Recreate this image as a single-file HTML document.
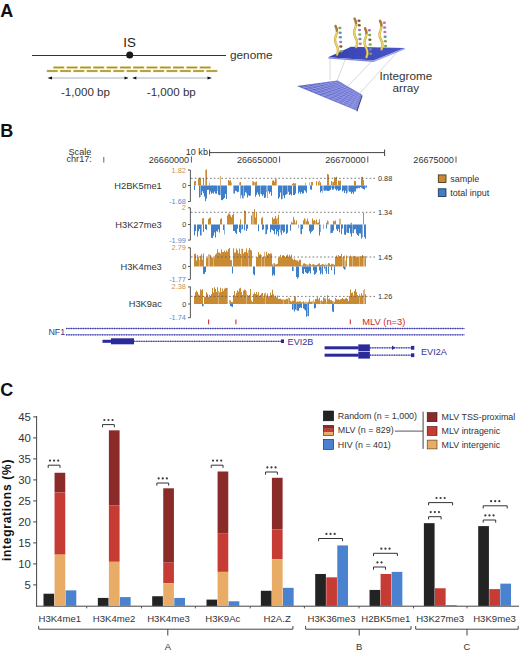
<!DOCTYPE html>
<html><head><meta charset="utf-8"><style>
html,body{margin:0;padding:0;background:#fff;}
body{width:520px;height:654px;overflow:hidden;}
svg{display:block;}
svg text{font-family:"Liberation Sans",sans-serif;}
</style></head><body>
<svg width="520" height="654" viewBox="0 0 520 654">
<text x="0.3" y="16.8" font-size="18" fill="#111" text-anchor="start" font-weight="bold" >A</text>
<line x1="32" y1="55.5" x2="226" y2="55.5" stroke="#333" stroke-width="1" />
<circle cx="129.7" cy="55" r="3.5" fill="#1a1a1a"/>
<text x="129.6" y="47.2" font-size="13.3" fill="#222" text-anchor="middle" font-weight="normal" >IS</text>
<text x="230" y="58.6" font-size="11.8" fill="#333" text-anchor="start" font-weight="normal" >genome</text>
<rect x="53.30" y="66.40" width="11.10" height="2.20" fill="#c8b652" />
<rect x="53.80" y="67.10" width="10.10" height="0.80" fill="#9a8a38" />
<rect x="66.60" y="66.40" width="11.10" height="2.20" fill="#c8b652" />
<rect x="67.10" y="67.10" width="10.10" height="0.80" fill="#9a8a38" />
<rect x="79.90" y="66.40" width="11.10" height="2.20" fill="#c8b652" />
<rect x="80.40" y="67.10" width="10.10" height="0.80" fill="#9a8a38" />
<rect x="93.20" y="66.40" width="11.10" height="2.20" fill="#c8b652" />
<rect x="93.70" y="67.10" width="10.10" height="0.80" fill="#9a8a38" />
<rect x="106.50" y="66.40" width="11.10" height="2.20" fill="#c8b652" />
<rect x="107.00" y="67.10" width="10.10" height="0.80" fill="#9a8a38" />
<rect x="119.80" y="66.40" width="11.10" height="2.20" fill="#c8b652" />
<rect x="120.30" y="67.10" width="10.10" height="0.80" fill="#9a8a38" />
<rect x="133.10" y="66.40" width="11.10" height="2.20" fill="#c8b652" />
<rect x="133.60" y="67.10" width="10.10" height="0.80" fill="#9a8a38" />
<rect x="146.40" y="66.40" width="11.10" height="2.20" fill="#c8b652" />
<rect x="146.90" y="67.10" width="10.10" height="0.80" fill="#9a8a38" />
<rect x="159.70" y="66.40" width="11.10" height="2.20" fill="#c8b652" />
<rect x="160.20" y="67.10" width="10.10" height="0.80" fill="#9a8a38" />
<rect x="173.00" y="66.40" width="11.10" height="2.20" fill="#c8b652" />
<rect x="173.50" y="67.10" width="10.10" height="0.80" fill="#9a8a38" />
<rect x="186.30" y="66.40" width="11.10" height="2.20" fill="#c8b652" />
<rect x="186.80" y="67.10" width="10.10" height="0.80" fill="#9a8a38" />
<rect x="199.60" y="66.40" width="11.10" height="2.20" fill="#c8b652" />
<rect x="200.10" y="67.10" width="10.10" height="0.80" fill="#9a8a38" />
<rect x="46.70" y="69.90" width="11.10" height="2.20" fill="#c8b652" />
<rect x="47.20" y="70.60" width="10.10" height="0.80" fill="#9a8a38" />
<rect x="60.00" y="69.90" width="11.10" height="2.20" fill="#c8b652" />
<rect x="60.50" y="70.60" width="10.10" height="0.80" fill="#9a8a38" />
<rect x="73.30" y="69.90" width="11.10" height="2.20" fill="#c8b652" />
<rect x="73.80" y="70.60" width="10.10" height="0.80" fill="#9a8a38" />
<rect x="86.60" y="69.90" width="11.10" height="2.20" fill="#c8b652" />
<rect x="87.10" y="70.60" width="10.10" height="0.80" fill="#9a8a38" />
<rect x="99.90" y="69.90" width="11.10" height="2.20" fill="#c8b652" />
<rect x="100.40" y="70.60" width="10.10" height="0.80" fill="#9a8a38" />
<rect x="113.20" y="69.90" width="11.10" height="2.20" fill="#c8b652" />
<rect x="113.70" y="70.60" width="10.10" height="0.80" fill="#9a8a38" />
<rect x="126.50" y="69.90" width="11.10" height="2.20" fill="#c8b652" />
<rect x="127.00" y="70.60" width="10.10" height="0.80" fill="#9a8a38" />
<rect x="139.80" y="69.90" width="11.10" height="2.20" fill="#c8b652" />
<rect x="140.30" y="70.60" width="10.10" height="0.80" fill="#9a8a38" />
<rect x="153.10" y="69.90" width="11.10" height="2.20" fill="#c8b652" />
<rect x="153.60" y="70.60" width="10.10" height="0.80" fill="#9a8a38" />
<rect x="166.40" y="69.90" width="11.10" height="2.20" fill="#c8b652" />
<rect x="166.90" y="70.60" width="10.10" height="0.80" fill="#9a8a38" />
<rect x="179.70" y="69.90" width="11.10" height="2.20" fill="#c8b652" />
<rect x="180.20" y="70.60" width="10.10" height="0.80" fill="#9a8a38" />
<rect x="193.00" y="69.90" width="11.10" height="2.20" fill="#c8b652" />
<rect x="193.50" y="70.60" width="10.10" height="0.80" fill="#9a8a38" />
<rect x="206.30" y="69.90" width="11.10" height="2.20" fill="#c8b652" />
<rect x="206.80" y="70.60" width="10.10" height="0.80" fill="#9a8a38" />
<line x1="49" y1="78" x2="128" y2="78" stroke="#a9b0b8" stroke-width="1" />
<line x1="133" y1="78" x2="210" y2="78" stroke="#a9b0b8" stroke-width="1" />
<path d="M47.5,78 L52,76.5 L52,79.5 Z" fill="#111"/>
<path d="M128.5,78 L124.5,76.5 L124.5,79.5 Z" fill="#111"/>
<path d="M132.3,78 L136.3,76.5 L136.3,79.5 Z" fill="#111"/>
<path d="M212,78 L207.5,76.5 L207.5,79.5 Z" fill="#111"/>
<text x="61" y="96.2" font-size="11.6" fill="#333" text-anchor="start" font-weight="normal" >-1,000 bp</text>
<text x="146.8" y="96.2" font-size="11.6" fill="#333" text-anchor="start" font-weight="normal" >-1,000 bp</text>
<line x1="330" y1="59" x2="330" y2="80" stroke="#c8c8cc" stroke-width="0.7" />
<line x1="345" y1="60" x2="337" y2="81" stroke="#c8c8cc" stroke-width="0.7" />
<line x1="372" y1="61" x2="348" y2="86" stroke="#c8c8cc" stroke-width="0.7" />
<line x1="400" y1="49" x2="360" y2="93" stroke="#c8c8cc" stroke-width="0.7" />
<defs><linearGradient id="gb" x1="0" y1="0" x2="1" y2="1"><stop offset="0" stop-color="#5a62c4"/><stop offset="1" stop-color="#7a82d8"/></linearGradient><linearGradient id="tp" x1="0" y1="0" x2="1" y2="0"><stop offset="0" stop-color="#3540b0"/><stop offset="1" stop-color="#4a56c8"/></linearGradient></defs>
<path d="M296.9,86 L337.6,80.4 L361.8,94.6 L356.3,110.6 Z" fill="url(#gb)"/>
<line x1="301.42" y1="85.38" x2="356.91" y2="108.82" stroke="#aab0ee" stroke-width="0.5" />
<line x1="305.94" y1="84.76" x2="357.52" y2="107.04" stroke="#aab0ee" stroke-width="0.5" />
<line x1="310.47" y1="84.13" x2="358.13" y2="105.27" stroke="#aab0ee" stroke-width="0.5" />
<line x1="314.99" y1="83.51" x2="358.74" y2="103.49" stroke="#aab0ee" stroke-width="0.5" />
<line x1="319.51" y1="82.89" x2="359.36" y2="101.71" stroke="#aab0ee" stroke-width="0.5" />
<line x1="324.03" y1="82.27" x2="359.97" y2="99.93" stroke="#aab0ee" stroke-width="0.5" />
<line x1="328.56" y1="81.64" x2="360.58" y2="98.16" stroke="#aab0ee" stroke-width="0.5" />
<line x1="333.08" y1="81.02" x2="361.19" y2="96.38" stroke="#aab0ee" stroke-width="0.5" />
<line x1="301.85" y1="88.05" x2="339.62" y2="81.58" stroke="#aab0ee" stroke-width="0.5" />
<line x1="306.8" y1="90.1" x2="341.63" y2="82.77" stroke="#aab0ee" stroke-width="0.5" />
<line x1="311.75" y1="92.15" x2="343.65" y2="83.95" stroke="#aab0ee" stroke-width="0.5" />
<line x1="316.7" y1="94.2" x2="345.67" y2="85.13" stroke="#aab0ee" stroke-width="0.5" />
<line x1="321.65" y1="96.25" x2="347.68" y2="86.32" stroke="#aab0ee" stroke-width="0.5" />
<line x1="326.6" y1="98.3" x2="349.7" y2="87.5" stroke="#aab0ee" stroke-width="0.5" />
<line x1="331.55" y1="100.35" x2="351.72" y2="88.68" stroke="#aab0ee" stroke-width="0.5" />
<line x1="336.5" y1="102.4" x2="353.73" y2="89.87" stroke="#aab0ee" stroke-width="0.5" />
<line x1="341.45" y1="104.45" x2="355.75" y2="91.05" stroke="#aab0ee" stroke-width="0.5" />
<line x1="346.4" y1="106.5" x2="357.77" y2="92.23" stroke="#aab0ee" stroke-width="0.5" />
<line x1="351.35" y1="108.55" x2="359.78" y2="93.42" stroke="#aab0ee" stroke-width="0.5" />
<path d="M356.3,110.6 L361.8,94.6 L362.5,96 L357.3,111.8 Z" fill="#3a3f90"/>
<path d="M328.2,57.2 L351,46.8 L404.7,48 L373.5,60.6 Z" fill="url(#tp)"/>
<path d="M328.2,57.2 L373.5,60.6 L373.8,61.9 L328.4,58.4 Z" fill="#7a84d8"/>
<path d="M373.5,60.6 L404.7,48 L404.9,49.2 L373.8,61.9 Z" fill="#9aa2e4"/>
<polyline points="335.50,26.00 335.92,26.95 336.31,27.90 336.62,28.85 336.84,29.80 336.95,30.75 336.94,31.70 336.82,32.65 336.61,33.60 336.32,34.55 336.00,35.50 335.68,36.45 335.39,37.40 335.18,38.35 335.06,39.30 335.05,40.25 335.16,41.20 335.38,42.15 335.69,43.10 336.08,44.05 336.50,45.00 336.92,45.95 337.31,46.90 337.62,47.85 337.84,48.80 337.95,49.75 337.94,50.70 337.82,51.65 337.61,52.60 337.32,53.55 337.00,54.50" fill="none" stroke="#d2a848" stroke-width="2.4" stroke-linecap="round"/>
<polyline points="335.50,26.00 335.92,26.95 336.31,27.90 336.62,28.85 336.84,29.80 336.95,30.75 336.94,31.70 336.82,32.65 336.61,33.60 336.32,34.55 336.00,35.50 335.68,36.45 335.39,37.40 335.18,38.35 335.06,39.30 335.05,40.25 335.16,41.20 335.38,42.15 335.69,43.10 336.08,44.05 336.50,45.00 336.92,45.95 337.31,46.90 337.62,47.85 337.84,48.80 337.95,49.75 337.94,50.70 337.82,51.65 337.61,52.60 337.32,53.55 337.00,54.50" fill="none" stroke="#ecdc6a" stroke-width="1.1" stroke-linecap="round"/>
<polyline points="335.50,26.00 335.92,26.95 336.31,27.90 336.62,28.85 336.84,29.80 336.95,30.75" fill="none" stroke="#a87a40" stroke-width="2.2" stroke-linecap="round"/>
<ellipse cx="339.91" cy="28.00" rx="1.6" ry="1.25" fill="#78a848"/>
<ellipse cx="340.15" cy="32.64" rx="1.6" ry="1.25" fill="#6a88b0"/>
<ellipse cx="340.39" cy="37.27" rx="1.6" ry="1.25" fill="#6a88b0"/>
<ellipse cx="340.64" cy="41.91" rx="1.6" ry="1.25" fill="#a478b8"/>
<ellipse cx="340.88" cy="46.55" rx="1.6" ry="1.25" fill="#7a5a38"/>
<ellipse cx="341.13" cy="51.18" rx="1.6" ry="1.25" fill="#78a848"/>
<polyline points="354.60,18.70 355.02,19.64 355.41,20.59 355.72,21.53 355.94,22.47 356.05,23.42 356.04,24.36 355.92,25.30 355.71,26.25 355.42,27.19 355.10,28.13 354.78,29.08 354.49,30.02 354.28,30.96 354.16,31.91 354.15,32.85 354.26,33.79 354.48,34.74 354.79,35.68 355.18,36.62 355.60,37.57 356.02,38.51 356.41,39.45 356.72,40.40 356.94,41.34 357.05,42.28 357.04,43.23 356.92,44.17 356.71,45.11 356.42,46.06 356.10,47.00" fill="none" stroke="#d2a848" stroke-width="2.4" stroke-linecap="round"/>
<polyline points="354.60,18.70 355.02,19.64 355.41,20.59 355.72,21.53 355.94,22.47 356.05,23.42 356.04,24.36 355.92,25.30 355.71,26.25 355.42,27.19 355.10,28.13 354.78,29.08 354.49,30.02 354.28,30.96 354.16,31.91 354.15,32.85 354.26,33.79 354.48,34.74 354.79,35.68 355.18,36.62 355.60,37.57 356.02,38.51 356.41,39.45 356.72,40.40 356.94,41.34 357.05,42.28 357.04,43.23 356.92,44.17 356.71,45.11 356.42,46.06 356.10,47.00" fill="none" stroke="#ecdc6a" stroke-width="1.1" stroke-linecap="round"/>
<polyline points="354.60,18.70 355.02,19.64 355.41,20.59 355.72,21.53 355.94,22.47 356.05,23.42" fill="none" stroke="#a87a40" stroke-width="2.2" stroke-linecap="round"/>
<ellipse cx="359.01" cy="20.70" rx="1.6" ry="1.25" fill="#7a5a38"/>
<ellipse cx="359.25" cy="25.30" rx="1.6" ry="1.25" fill="#7a5a38"/>
<ellipse cx="359.49" cy="29.90" rx="1.6" ry="1.25" fill="#a478b8"/>
<ellipse cx="359.74" cy="34.50" rx="1.6" ry="1.25" fill="#78a848"/>
<ellipse cx="359.98" cy="39.10" rx="1.6" ry="1.25" fill="#6a88b0"/>
<ellipse cx="360.23" cy="43.70" rx="1.6" ry="1.25" fill="#c07890"/>
<polyline points="380.00,20.80 380.42,21.75 380.81,22.70 381.12,23.65 381.34,24.60 381.45,25.55 381.44,26.50 381.32,27.45 381.11,28.40 380.82,29.35 380.50,30.30 380.18,31.25 379.89,32.20 379.68,33.15 379.56,34.10 379.55,35.05 379.66,36.00 379.88,36.95 380.19,37.90 380.58,38.85 381.00,39.80 381.42,40.75 381.81,41.70 382.12,42.65 382.34,43.60 382.45,44.55 382.44,45.50 382.32,46.45 382.11,47.40 381.82,48.35 381.50,49.30" fill="none" stroke="#d2a848" stroke-width="2.4" stroke-linecap="round"/>
<polyline points="380.00,20.80 380.42,21.75 380.81,22.70 381.12,23.65 381.34,24.60 381.45,25.55 381.44,26.50 381.32,27.45 381.11,28.40 380.82,29.35 380.50,30.30 380.18,31.25 379.89,32.20 379.68,33.15 379.56,34.10 379.55,35.05 379.66,36.00 379.88,36.95 380.19,37.90 380.58,38.85 381.00,39.80 381.42,40.75 381.81,41.70 382.12,42.65 382.34,43.60 382.45,44.55 382.44,45.50 382.32,46.45 382.11,47.40 381.82,48.35 381.50,49.30" fill="none" stroke="#ecdc6a" stroke-width="1.1" stroke-linecap="round"/>
<polyline points="380.00,20.80 380.42,21.75 380.81,22.70 381.12,23.65 381.34,24.60 381.45,25.55" fill="none" stroke="#a87a40" stroke-width="2.2" stroke-linecap="round"/>
<ellipse cx="384.41" cy="22.80" rx="1.6" ry="1.25" fill="#c07890"/>
<ellipse cx="384.65" cy="27.44" rx="1.6" ry="1.25" fill="#a478b8"/>
<ellipse cx="384.89" cy="32.07" rx="1.6" ry="1.25" fill="#c07890"/>
<ellipse cx="385.14" cy="36.71" rx="1.6" ry="1.25" fill="#6a88b0"/>
<ellipse cx="385.38" cy="41.35" rx="1.6" ry="1.25" fill="#78a848"/>
<ellipse cx="385.63" cy="45.98" rx="1.6" ry="1.25" fill="#78a848"/>
<polyline points="365.00,28.30 365.42,29.26 365.81,30.23 366.12,31.19 366.34,32.15 366.45,33.12 366.44,34.08 366.32,35.04 366.11,36.01 365.82,36.97 365.50,37.93 365.18,38.90 364.89,39.86 364.68,40.82 364.56,41.79 364.55,42.75 364.66,43.71 364.88,44.68 365.19,45.64 365.58,46.60 366.00,47.57 366.42,48.53 366.81,49.49 367.12,50.46 367.34,51.42 367.45,52.38 367.44,53.35 367.32,54.31 367.11,55.27 366.82,56.24 366.50,57.20" fill="none" stroke="#d2a848" stroke-width="2.4" stroke-linecap="round"/>
<polyline points="365.00,28.30 365.42,29.26 365.81,30.23 366.12,31.19 366.34,32.15 366.45,33.12 366.44,34.08 366.32,35.04 366.11,36.01 365.82,36.97 365.50,37.93 365.18,38.90 364.89,39.86 364.68,40.82 364.56,41.79 364.55,42.75 364.66,43.71 364.88,44.68 365.19,45.64 365.58,46.60 366.00,47.57 366.42,48.53 366.81,49.49 367.12,50.46 367.34,51.42 367.45,52.38 367.44,53.35 367.32,54.31 367.11,55.27 366.82,56.24 366.50,57.20" fill="none" stroke="#ecdc6a" stroke-width="1.1" stroke-linecap="round"/>
<polyline points="365.00,28.30 365.42,29.26 365.81,30.23 366.12,31.19 366.34,32.15 366.45,33.12" fill="none" stroke="#a87a40" stroke-width="2.2" stroke-linecap="round"/>
<ellipse cx="369.40" cy="30.30" rx="1.6" ry="1.25" fill="#a478b8"/>
<ellipse cx="369.65" cy="35.01" rx="1.6" ry="1.25" fill="#78a848"/>
<ellipse cx="369.89" cy="39.72" rx="1.6" ry="1.25" fill="#7a5a38"/>
<ellipse cx="370.14" cy="44.43" rx="1.6" ry="1.25" fill="#78a848"/>
<ellipse cx="370.38" cy="49.14" rx="1.6" ry="1.25" fill="#6a88b0"/>
<ellipse cx="370.63" cy="53.85" rx="1.6" ry="1.25" fill="#78a848"/>
<text x="379.6" y="79.8" font-size="11.7" fill="#333" text-anchor="start" font-weight="normal" >Integrome</text>
<text x="405.9" y="91.5" font-size="11.7" fill="#333" text-anchor="middle" font-weight="normal" >array</text>
<text x="0.3" y="136.6" font-size="18" fill="#111" text-anchor="start" font-weight="bold" >B</text>
<text x="91.3" y="154.6" font-size="9.1" fill="#333" text-anchor="end" font-weight="normal" >Scale</text>
<text x="91.8" y="162.4" font-size="9.1" fill="#333" text-anchor="end" font-weight="normal" >chr17:</text>
<line x1="103.8" y1="157" x2="103.8" y2="162.6" stroke="#555" stroke-width="0.9" />
<text x="185.7" y="154.8" font-size="9.1" fill="#333" text-anchor="start" font-weight="normal" >10 kb</text>
<line x1="209.6" y1="152.6" x2="384.6" y2="152.6" stroke="#444" stroke-width="1" />
<line x1="209.6" y1="149.5" x2="209.6" y2="156" stroke="#444" stroke-width="1" />
<line x1="384.6" y1="149.5" x2="384.6" y2="156" stroke="#444" stroke-width="1" />
<text x="189.20000000000002" y="162.6" font-size="9.1" fill="#333" text-anchor="end" font-weight="normal" >26660000</text>
<line x1="191.4" y1="156.4" x2="191.4" y2="162.6" stroke="#444" stroke-width="0.9" />
<text x="277.40000000000003" y="162.6" font-size="9.1" fill="#333" text-anchor="end" font-weight="normal" >26665000</text>
<line x1="279.6" y1="156.4" x2="279.6" y2="162.6" stroke="#444" stroke-width="0.9" />
<text x="365.6" y="162.6" font-size="9.1" fill="#333" text-anchor="end" font-weight="normal" >26670000</text>
<line x1="367.8" y1="156.4" x2="367.8" y2="162.6" stroke="#444" stroke-width="0.9" />
<text x="453.8" y="162.6" font-size="9.1" fill="#333" text-anchor="end" font-weight="normal" >26675000</text>
<line x1="456" y1="156.4" x2="456" y2="162.6" stroke="#444" stroke-width="0.9" />
<path d="M194,185.5V181.3h1V185.5ZM195,185.5V181.1h1V185.5ZM198,185.5V178.4h1V185.5ZM199,185.5V177.7h1V185.5ZM200,185.5V177.7h1V185.5ZM203,185.5V178.1h1V185.5ZM206,185.5V169.5h1V185.5ZM228,185.5V180.1h1V185.5ZM229,185.5V180.8h1V185.5ZM230,185.5V180.3h1V185.5ZM240,185.5V182.1h1V185.5ZM253,185.5V181.4h1V185.5ZM255,185.5V182.2h1V185.5ZM256,185.5V181.6h1V185.5ZM272,185.5V180.8h1V185.5ZM273,185.5V180.3h1V185.5ZM274,185.5V181.5h1V185.5ZM275,185.5V179.2h1V185.5ZM292,185.5V183.8h1V185.5ZM293,185.5V183.1h1V185.5ZM294,185.5V183.6h1V185.5ZM295,185.5V183.3h1V185.5ZM311,185.5V182.0h1V185.5ZM312,185.5V182.1h1V185.5ZM316,185.5V181.2h1V185.5ZM318,185.5V181.4h1V185.5ZM320,185.5V182.3h1V185.5ZM327,185.5V174.0h1V185.5ZM328,185.5V174.4h1V185.5ZM331,185.5V180.9h1V185.5ZM333,185.5V181.7h1V185.5ZM334,185.5V177.1h1V185.5ZM335,185.5V177.8h1V185.5ZM336,185.5V176.7h1V185.5ZM338,185.5V180.5h1V185.5ZM339,185.5V181.0h1V185.5ZM340,185.5V180.5h1V185.5ZM354,185.5V180.8h1V185.5ZM355,185.5V181.1h1V185.5ZM361,185.5V177.0h1V185.5ZM362,185.5V176.7h1V185.5ZM363,185.5V180.1h1V185.5Z" fill="#c98a34"/>
<path d="M205,185.5V169.9h1V185.5ZM209,185.5V182.4h1V185.5ZM220,185.5V176.0h1V185.5ZM231,185.5V182.2h1V185.5ZM239,185.5V182.2h1V185.5ZM252,185.5V181.1h1V185.5ZM254,185.5V181.9h1V185.5ZM276,185.5V178.5h1V185.5ZM305,185.5V182.5h1V185.5ZM309,185.5V182.5h1V185.5ZM319,185.5V180.4h1V185.5ZM332,185.5V181.8h1V185.5Z" fill="#dcb47a"/>
<path d="M194,185.5V190.0h1V185.5ZM199,185.5V197.4h1V185.5ZM201,185.5V195.1h1V185.5ZM202,185.5V191.2h1V185.5ZM203,185.5V193.2h1V185.5ZM204,185.5V196.5h1V185.5ZM205,185.5V201.3h1V185.5ZM206,185.5V198.5h1V185.5ZM207,185.5V190.0h1V185.5ZM208,185.5V189.8h1V185.5ZM209,185.5V194.4h1V185.5ZM210,185.5V191.6h1V185.5ZM211,185.5V193.7h1V185.5ZM212,185.5V192.8h1V185.5ZM213,185.5V193.6h1V185.5ZM214,185.5V191.6h1V185.5ZM215,185.5V193.6h1V185.5ZM216,185.5V193.7h1V185.5ZM218,185.5V194.7h1V185.5ZM219,185.5V195.3h1V185.5ZM221,185.5V200.0h1V185.5ZM222,185.5V200.2h1V185.5ZM223,185.5V198.9h1V185.5ZM224,185.5V198.1h1V185.5ZM225,185.5V194.1h1V185.5ZM226,185.5V198.9h1V185.5ZM234,185.5V193.5h1V185.5ZM235,185.5V190.8h1V185.5ZM236,185.5V191.2h1V185.5ZM237,185.5V192.3h1V185.5ZM238,185.5V191.7h1V185.5ZM241,185.5V195.2h1V185.5ZM242,185.5V198.3h1V185.5ZM244,185.5V195.7h1V185.5ZM245,185.5V192.1h1V185.5ZM246,185.5V193.3h1V185.5ZM247,185.5V197.6h1V185.5ZM248,185.5V195.3h1V185.5ZM249,185.5V195.9h1V185.5ZM250,185.5V195.6h1V185.5ZM255,185.5V196.7h1V185.5ZM256,185.5V194.8h1V185.5ZM257,185.5V192.4h1V185.5ZM258,185.5V194.4h1V185.5ZM259,185.5V196.5h1V185.5ZM261,185.5V194.3h1V185.5ZM262,185.5V196.0h1V185.5ZM263,185.5V194.6h1V185.5ZM264,185.5V198.1h1V185.5ZM265,185.5V197.5h1V185.5ZM268,185.5V191.2h1V185.5ZM269,185.5V193.8h1V185.5ZM270,185.5V192.1h1V185.5ZM271,185.5V195.8h1V185.5ZM278,185.5V198.7h1V185.5ZM279,185.5V197.2h1V185.5ZM280,185.5V192.6h1V185.5ZM281,185.5V199.2h1V185.5ZM283,185.5V195.4h1V185.5ZM284,185.5V198.2h1V185.5ZM285,185.5V195.0h1V185.5ZM286,185.5V194.2h1V185.5ZM288,185.5V191.7h1V185.5ZM289,185.5V195.0h1V185.5ZM290,185.5V194.2h1V185.5ZM291,185.5V195.6h1V185.5ZM293,185.5V195.0h1V185.5ZM294,185.5V194.9h1V185.5ZM295,185.5V193.5h1V185.5ZM298,185.5V193.4h1V185.5ZM299,185.5V191.8h1V185.5ZM300,185.5V193.8h1V185.5ZM301,185.5V192.1h1V185.5ZM302,185.5V193.8h1V185.5ZM303,185.5V193.3h1V185.5ZM304,185.5V190.2h1V185.5ZM305,185.5V191.3h1V185.5ZM306,185.5V192.8h1V185.5ZM310,185.5V189.6h1V185.5ZM311,185.5V189.7h1V185.5ZM320,185.5V192.6h1V185.5ZM321,185.5V191.0h1V185.5ZM324,185.5V190.7h1V185.5ZM325,185.5V190.5h1V185.5ZM326,185.5V190.6h1V185.5ZM327,185.5V190.9h1V185.5ZM328,185.5V190.9h1V185.5ZM329,185.5V190.5h1V185.5ZM330,185.5V190.1h1V185.5ZM332,185.5V189.7h1V185.5ZM333,185.5V189.4h1V185.5ZM335,185.5V189.3h1V185.5ZM336,185.5V190.5h1V185.5ZM337,185.5V189.5h1V185.5ZM338,185.5V190.9h1V185.5ZM339,185.5V190.5h1V185.5ZM340,185.5V189.9h1V185.5ZM342,185.5V191.4h1V185.5ZM343,185.5V190.5h1V185.5ZM344,185.5V193.0h1V185.5ZM345,185.5V190.7h1V185.5ZM346,185.5V193.4h1V185.5ZM349,185.5V191.8h1V185.5ZM350,185.5V191.8h1V185.5ZM351,185.5V193.8h1V185.5ZM352,185.5V192.2h1V185.5ZM353,185.5V193.9h1V185.5ZM354,185.5V191.4h1V185.5ZM355,185.5V191.5h1V185.5ZM356,185.5V188.5h1V185.5ZM357,185.5V188.5h1V185.5ZM358,185.5V187.8h1V185.5ZM359,185.5V188.2h1V185.5ZM360,185.5V187.1h1V185.5ZM361,185.5V187.7h1V185.5ZM362,185.5V188.6h1V185.5ZM363,185.5V189.0h1V185.5ZM364,185.5V189.6h1V185.5ZM366,185.5V187.4h1V185.5Z" fill="#3f7fca"/>
<path d="M200,185.5V196.9h1V185.5ZM217,185.5V191.1h1V185.5ZM220,185.5V195.1h1V185.5ZM233,185.5V193.7h1V185.5ZM240,185.5V198.4h1V185.5ZM243,185.5V198.4h1V185.5ZM260,185.5V193.8h1V185.5ZM266,185.5V192.2h1V185.5ZM267,185.5V198.1h1V185.5ZM282,185.5V199.1h1V185.5ZM287,185.5V194.0h1V185.5ZM322,185.5V192.8h1V185.5ZM323,185.5V190.4h1V185.5ZM331,185.5V188.0h1V185.5ZM334,185.5V188.3h1V185.5ZM347,185.5V192.7h1V185.5ZM348,185.5V191.0h1V185.5ZM365,185.5V188.0h1V185.5Z" fill="#8db2e0"/>
<path d="M188,170H190.4V201.5H188M188,185.5H190.4" fill="none" stroke="#444" stroke-width="0.9"/>
<text x="185.8" y="172.5" font-size="7.3" fill="#c9924a" text-anchor="end" font-weight="normal" >1.82</text>
<text x="186.2" y="188.0" font-size="7.3" fill="#333" text-anchor="end" font-weight="normal" >0</text>
<text x="185.8" y="204.0" font-size="7.3" fill="#5a8ccc" text-anchor="end" font-weight="normal" >-1.68</text>
<line x1="191" y1="178.3" x2="375" y2="178.3" stroke="#555" stroke-width="0.8" stroke-dasharray="1.6,2.2"/>
<text x="378" y="180.9" font-size="7.3" fill="#333" text-anchor="start" font-weight="normal" >0.88</text>
<text x="161.8" y="188.8" font-size="9.3" fill="#333" text-anchor="end" font-weight="normal" >H2BK5me1</text>
<path d="M202,224.5V218.6h1V224.5ZM203,224.5V217.9h1V224.5ZM208,224.5V218.9h1V224.5ZM209,224.5V217.9h1V224.5ZM210,224.5V217.6h1V224.5ZM220,224.5V219.0h1V224.5ZM221,224.5V218.3h1V224.5ZM227,224.5V215.5h1V224.5ZM228,224.5V213.5h1V224.5ZM229,224.5V213.7h1V224.5ZM230,224.5V215.2h1V224.5ZM231,224.5V217.3h1V224.5ZM232,224.5V214.9h1V224.5ZM233,224.5V213.6h1V224.5ZM240,224.5V219.3h1V224.5ZM244,224.5V210.5h1V224.5ZM245,224.5V211.1h1V224.5ZM251,224.5V215.4h1V224.5ZM254,224.5V208.9h1V224.5ZM255,224.5V217.5h1V224.5ZM256,224.5V213.1h1V224.5ZM261,224.5V218.2h1V224.5ZM262,224.5V217.0h1V224.5ZM272,224.5V217.2h1V224.5ZM273,224.5V218.9h1V224.5ZM274,224.5V218.6h1V224.5ZM275,224.5V216.1h1V224.5ZM276,224.5V218.7h1V224.5ZM278,224.5V214.8h1V224.5ZM291,224.5V221.8h1V224.5ZM292,224.5V222.8h1V224.5ZM293,224.5V216.8h1V224.5ZM294,224.5V219.7h1V224.5ZM296,224.5V220.5h1V224.5ZM303,224.5V220.3h1V224.5ZM304,224.5V218.2h1V224.5ZM306,224.5V221.2h1V224.5ZM307,224.5V218.6h1V224.5ZM308,224.5V221.2h1V224.5ZM312,224.5V218.6h1V224.5ZM313,224.5V220.6h1V224.5ZM314,224.5V219.9h1V224.5ZM316,224.5V219.5h1V224.5ZM317,224.5V222.8h1V224.5ZM318,224.5V222.4h1V224.5ZM319,224.5V219.2h1V224.5ZM326,224.5V222.9h1V224.5ZM327,224.5V220.6h1V224.5ZM333,224.5V220.8h1V224.5ZM334,224.5V221.3h1V224.5ZM335,224.5V220.5h1V224.5ZM351,224.5V222.8h1V224.5ZM363,224.5V213.0h1V224.5Z" fill="#c98a34"/>
<path d="M252,224.5V212.2h1V224.5ZM253,224.5V211.9h1V224.5ZM277,224.5V217.8h1V224.5ZM295,224.5V222.6h1V224.5ZM305,224.5V219.2h1V224.5ZM315,224.5V221.0h1V224.5ZM328,224.5V221.2h1V224.5ZM339,224.5V218.5h1V224.5ZM340,224.5V219.0h1V224.5ZM350,224.5V223.2h1V224.5Z" fill="#dcb47a"/>
<path d="M194,224.5V235.3h1V224.5ZM195,224.5V230.9h1V224.5ZM197,224.5V236.5h1V224.5ZM198,224.5V231.2h1V224.5ZM199,224.5V229.0h1V224.5ZM200,224.5V235.4h1V224.5ZM203,224.5V231.8h1V224.5ZM205,224.5V229.0h1V224.5ZM206,224.5V230.0h1V224.5ZM211,224.5V237.8h1V224.5ZM212,224.5V238.1h1V224.5ZM213,224.5V235.7h1V224.5ZM214,224.5V232.5h1V224.5ZM215,224.5V237.6h1V224.5ZM216,224.5V231.2h1V224.5ZM217,224.5V231.7h1V224.5ZM218,224.5V229.4h1V224.5ZM219,224.5V232.6h1V224.5ZM223,224.5V229.9h1V224.5ZM233,224.5V231.1h1V224.5ZM234,224.5V230.9h1V224.5ZM235,224.5V232.7h1V224.5ZM236,224.5V233.9h1V224.5ZM237,224.5V228.8h1V224.5ZM239,224.5V232.0h1V224.5ZM240,224.5V233.2h1V224.5ZM242,224.5V229.1h1V224.5ZM244,224.5V230.3h1V224.5ZM246,224.5V231.0h1V224.5ZM247,224.5V228.7h1V224.5ZM258,224.5V231.3h1V224.5ZM262,224.5V230.1h1V224.5ZM263,224.5V229.3h1V224.5ZM266,224.5V234.1h1V224.5ZM267,224.5V229.8h1V224.5ZM270,224.5V232.2h1V224.5ZM271,224.5V229.5h1V224.5ZM272,224.5V230.1h1V224.5ZM273,224.5V231.0h1V224.5ZM274,224.5V234.2h1V224.5ZM275,224.5V229.1h1V224.5ZM276,224.5V234.4h1V224.5ZM277,224.5V231.5h1V224.5ZM278,224.5V236.2h1V224.5ZM279,224.5V229.6h1V224.5ZM281,224.5V234.8h1V224.5ZM282,224.5V230.5h1V224.5ZM283,224.5V232.7h1V224.5ZM284,224.5V231.8h1V224.5ZM286,224.5V234.1h1V224.5ZM287,224.5V232.7h1V224.5ZM290,224.5V230.8h1V224.5ZM301,224.5V234.2h1V224.5ZM302,224.5V229.1h1V224.5ZM309,224.5V231.3h1V224.5ZM310,224.5V233.5h1V224.5ZM311,224.5V231.7h1V224.5ZM312,224.5V231.0h1V224.5ZM313,224.5V229.7h1V224.5ZM319,224.5V235.4h1V224.5ZM326,224.5V228.4h1V224.5ZM331,224.5V232.9h1V224.5ZM332,224.5V232.7h1V224.5ZM333,224.5V230.4h1V224.5ZM336,224.5V229.3h1V224.5ZM337,224.5V231.1h1V224.5ZM338,224.5V228.7h1V224.5ZM339,224.5V232.3h1V224.5ZM341,224.5V234.2h1V224.5ZM342,224.5V228.4h1V224.5ZM344,224.5V234.6h1V224.5ZM345,224.5V234.9h1V224.5ZM347,224.5V232.7h1V224.5ZM348,224.5V232.9h1V224.5ZM349,224.5V228.3h1V224.5ZM350,224.5V233.4h1V224.5ZM351,224.5V236.4h1V224.5ZM353,224.5V233.2h1V224.5ZM354,224.5V229.4h1V224.5ZM355,224.5V229.0h1V224.5ZM356,224.5V233.6h1V224.5ZM357,224.5V235.0h1V224.5ZM358,224.5V236.1h1V224.5ZM359,224.5V233.6h1V224.5ZM360,224.5V233.5h1V224.5ZM361,224.5V238.5h1V224.5ZM364,224.5V237.0h1V224.5ZM365,224.5V238.8h1V224.5Z" fill="#3f7fca"/>
<path d="M201,224.5V235.6h1V224.5ZM224,224.5V234.5h1V224.5ZM241,224.5V229.7h1V224.5ZM265,224.5V234.5h1V224.5ZM280,224.5V232.6h1V224.5ZM298,224.5V228.0h1V224.5ZM300,224.5V233.7h1V224.5ZM320,224.5V231.9h1V224.5ZM323,224.5V229.0h1V224.5ZM330,224.5V233.4h1V224.5ZM346,224.5V232.6h1V224.5ZM352,224.5V233.0h1V224.5ZM362,224.5V237.4h1V224.5Z" fill="#8db2e0"/>
<path d="M188,207.8H190.4V240.1H188M188,224.5H190.4" fill="none" stroke="#444" stroke-width="0.9"/>
<text x="185.8" y="210.3" font-size="7.3" fill="#c9924a" text-anchor="end" font-weight="normal" >2</text>
<text x="186.2" y="227.0" font-size="7.3" fill="#333" text-anchor="end" font-weight="normal" >0</text>
<text x="185.8" y="242.6" font-size="7.3" fill="#5a8ccc" text-anchor="end" font-weight="normal" >-1.99</text>
<line x1="191" y1="212.3" x2="375" y2="212.3" stroke="#555" stroke-width="0.8" stroke-dasharray="1.6,2.2"/>
<text x="378" y="214.9" font-size="7.3" fill="#333" text-anchor="start" font-weight="normal" >1.34</text>
<text x="161.8" y="227.8" font-size="9.3" fill="#333" text-anchor="end" font-weight="normal" >H3K27me3</text>
<path d="M194,266.5V253.9h1V266.5ZM195,266.5V253.6h1V266.5ZM196,266.5V260.6h1V266.5ZM197,266.5V255.0h1V266.5ZM198,266.5V257.3h1V266.5ZM200,266.5V255.8h1V266.5ZM201,266.5V253.9h1V266.5ZM202,266.5V259.4h1V266.5ZM203,266.5V253.5h1V266.5ZM206,266.5V257.8h1V266.5ZM207,266.5V257.8h1V266.5ZM210,266.5V254.9h1V266.5ZM211,266.5V257.5h1V266.5ZM212,266.5V257.6h1V266.5ZM214,266.5V258.1h1V266.5ZM215,266.5V254.5h1V266.5ZM216,266.5V253.6h1V266.5ZM217,266.5V249.3h1V266.5ZM218,266.5V252.6h1V266.5ZM219,266.5V252.6h1V266.5ZM220,266.5V253.6h1V266.5ZM221,266.5V249.2h1V266.5ZM222,266.5V251.9h1V266.5ZM223,266.5V252.1h1V266.5ZM224,266.5V250.7h1V266.5ZM225,266.5V252.3h1V266.5ZM226,266.5V250.5h1V266.5ZM227,266.5V251.4h1V266.5ZM228,266.5V249.0h1V266.5ZM229,266.5V248.0h1V266.5ZM230,266.5V259.7h1V266.5ZM231,266.5V260.2h1V266.5ZM233,266.5V248.2h1V266.5ZM234,266.5V252.4h1V266.5ZM235,266.5V252.5h1V266.5ZM236,266.5V248.4h1V266.5ZM237,266.5V250.3h1V266.5ZM238,266.5V253.2h1V266.5ZM239,266.5V248.4h1V266.5ZM240,266.5V253.9h1V266.5ZM242,266.5V248.7h1V266.5ZM243,266.5V253.4h1V266.5ZM244,266.5V252.1h1V266.5ZM245,266.5V252.0h1V266.5ZM246,266.5V248.6h1V266.5ZM247,266.5V252.8h1V266.5ZM249,266.5V248.1h1V266.5ZM250,266.5V249.8h1V266.5ZM251,266.5V250.4h1V266.5ZM256,266.5V257.6h1V266.5ZM257,266.5V256.9h1V266.5ZM258,266.5V252.0h1V266.5ZM259,266.5V254.4h1V266.5ZM260,266.5V253.9h1V266.5ZM262,266.5V257.0h1V266.5ZM263,266.5V256.7h1V266.5ZM265,266.5V256.4h1V266.5ZM266,266.5V251.8h1V266.5ZM267,266.5V254.7h1V266.5ZM268,266.5V252.9h1V266.5ZM269,266.5V253.9h1V266.5ZM270,266.5V253.4h1V266.5ZM271,266.5V253.5h1V266.5ZM272,266.5V264.4h1V266.5ZM274,266.5V263.2h1V266.5ZM275,266.5V264.4h1V266.5ZM276,266.5V264.3h1V266.5ZM277,266.5V263.8h1V266.5ZM278,266.5V257.6h1V266.5ZM279,266.5V257.6h1V266.5ZM280,266.5V254.8h1V266.5ZM281,266.5V257.6h1V266.5ZM282,266.5V255.5h1V266.5ZM283,266.5V254.9h1V266.5ZM284,266.5V256.1h1V266.5ZM285,266.5V257.0h1V266.5ZM286,266.5V255.4h1V266.5ZM287,266.5V254.6h1V266.5ZM288,266.5V256.6h1V266.5ZM289,266.5V254.7h1V266.5ZM290,266.5V257.1h1V266.5ZM291,266.5V254.5h1V266.5ZM292,266.5V258.6h1V266.5ZM293,266.5V260.1h1V266.5ZM294,266.5V258.5h1V266.5ZM295,266.5V260.0h1V266.5ZM296,266.5V260.5h1V266.5ZM297,266.5V260.2h1V266.5ZM298,266.5V261.5h1V266.5ZM299,266.5V259.7h1V266.5ZM300,266.5V259.7h1V266.5ZM301,266.5V265.5h1V266.5ZM303,266.5V263.5h1V266.5ZM304,266.5V263.3h1V266.5ZM305,266.5V264.0h1V266.5ZM307,266.5V264.7h1V266.5ZM309,266.5V263.4h1V266.5ZM310,266.5V264.0h1V266.5ZM311,266.5V265.3h1V266.5ZM312,266.5V264.4h1V266.5ZM313,266.5V264.1h1V266.5ZM314,266.5V264.8h1V266.5ZM315,266.5V264.9h1V266.5ZM316,266.5V265.1h1V266.5ZM317,266.5V264.6h1V266.5ZM318,266.5V263.8h1V266.5ZM319,266.5V263.2h1V266.5ZM320,266.5V265.0h1V266.5ZM321,266.5V264.6h1V266.5ZM322,266.5V264.1h1V266.5ZM323,266.5V264.6h1V266.5ZM324,266.5V264.7h1V266.5ZM326,266.5V264.9h1V266.5ZM328,266.5V263.1h1V266.5ZM329,266.5V263.4h1V266.5ZM330,266.5V264.9h1V266.5ZM331,266.5V263.7h1V266.5ZM332,266.5V264.3h1V266.5ZM333,266.5V264.3h1V266.5ZM334,266.5V264.7h1V266.5ZM335,266.5V256.9h1V266.5ZM336,266.5V255.5h1V266.5ZM337,266.5V256.7h1V266.5ZM338,266.5V254.9h1V266.5ZM339,266.5V256.5h1V266.5ZM340,266.5V255.9h1V266.5ZM341,266.5V254.1h1V266.5ZM343,266.5V256.5h1V266.5ZM346,266.5V255.5h1V266.5ZM349,266.5V256.2h1V266.5ZM350,266.5V255.4h1V266.5ZM351,266.5V257.4h1V266.5ZM353,266.5V255.7h1V266.5ZM354,266.5V256.1h1V266.5ZM355,266.5V257.5h1V266.5ZM356,266.5V256.4h1V266.5ZM357,266.5V256.6h1V266.5ZM358,266.5V257.5h1V266.5ZM360,266.5V256.1h1V266.5ZM361,266.5V256.3h1V266.5ZM362,266.5V255.0h1V266.5ZM365,266.5V256.3h1V266.5Z" fill="#c98a34"/>
<path d="M199,266.5V259.6h1V266.5ZM208,266.5V254.2h1V266.5ZM209,266.5V254.2h1V266.5ZM213,266.5V256.5h1V266.5ZM241,266.5V248.7h1V266.5ZM248,266.5V250.0h1V266.5ZM261,266.5V255.0h1V266.5ZM264,266.5V251.8h1V266.5ZM273,266.5V263.2h1V266.5ZM302,266.5V264.8h1V266.5ZM306,266.5V264.0h1V266.5ZM308,266.5V264.6h1V266.5ZM325,266.5V263.5h1V266.5ZM327,266.5V264.2h1V266.5ZM342,266.5V256.9h1V266.5ZM344,266.5V255.6h1V266.5ZM345,266.5V260.6h1V266.5ZM352,266.5V256.4h1V266.5ZM359,266.5V257.6h1V266.5ZM363,266.5V255.8h1V266.5ZM364,266.5V255.9h1V266.5Z" fill="#dcb47a"/>
<path d="M203,266.5V273.9h1V266.5ZM204,266.5V273.7h1V266.5ZM205,266.5V272.0h1V266.5ZM232,266.5V273.5h1V266.5ZM253,266.5V274.3h1V266.5ZM254,266.5V275.2h1V266.5ZM272,266.5V275.8h1V266.5ZM273,266.5V274.6h1V266.5ZM274,266.5V275.6h1V266.5ZM292,266.5V270.9h1V266.5ZM296,266.5V277.0h1V266.5ZM297,266.5V278.6h1V266.5ZM298,266.5V277.2h1V266.5ZM302,266.5V273.2h1V266.5ZM303,266.5V274.1h1V266.5ZM304,266.5V268.9h1V266.5ZM305,266.5V272.2h1V266.5ZM306,266.5V272.9h1V266.5ZM307,266.5V273.7h1V266.5ZM308,266.5V272.7h1V266.5ZM309,266.5V271.2h1V266.5ZM310,266.5V273.6h1V266.5ZM313,266.5V270.4h1V266.5ZM314,266.5V274.8h1V266.5ZM315,266.5V273.9h1V266.5ZM316,266.5V272.4h1V266.5ZM319,266.5V270.5h1V266.5ZM320,266.5V274.3h1V266.5ZM322,266.5V274.3h1V266.5ZM324,266.5V268.5h1V266.5ZM326,266.5V273.8h1V266.5ZM328,266.5V273.9h1V266.5ZM331,266.5V270.3h1V266.5ZM334,266.5V274.4h1V266.5ZM343,266.5V268.2h1V266.5ZM344,266.5V269.6h1V266.5Z" fill="#3f7fca"/>
<path d="M293,266.5V270.9h1V266.5ZM321,266.5V273.0h1V266.5ZM325,266.5V271.2h1V266.5ZM345,266.5V269.5h1V266.5Z" fill="#8db2e0"/>
<path d="M188,247.8H190.4V279.4H188M188,266.5H190.4" fill="none" stroke="#444" stroke-width="0.9"/>
<text x="185.8" y="250.3" font-size="7.3" fill="#c9924a" text-anchor="end" font-weight="normal" >2.79</text>
<text x="186.2" y="269.0" font-size="7.3" fill="#333" text-anchor="end" font-weight="normal" >0</text>
<text x="185.8" y="281.9" font-size="7.3" fill="#5a8ccc" text-anchor="end" font-weight="normal" >-1.77</text>
<line x1="191" y1="257" x2="375" y2="257" stroke="#555" stroke-width="0.8" stroke-dasharray="1.6,2.2"/>
<text x="378" y="259.6" font-size="7.3" fill="#333" text-anchor="start" font-weight="normal" >1.45</text>
<text x="161.8" y="269.8" font-size="9.3" fill="#333" text-anchor="end" font-weight="normal" >H3K4me3</text>
<path d="M194,304.0V295.7h1V304.0ZM195,304.0V292.3h1V304.0ZM196,304.0V290.8h1V304.0ZM197,304.0V291.9h1V304.0ZM198,304.0V294.2h1V304.0ZM199,304.0V295.6h1V304.0ZM200,304.0V289.3h1V304.0ZM201,304.0V290.2h1V304.0ZM202,304.0V289.3h1V304.0ZM204,304.0V296.4h1V304.0ZM205,304.0V296.7h1V304.0ZM206,304.0V292.3h1V304.0ZM207,304.0V294.0h1V304.0ZM208,304.0V296.8h1V304.0ZM209,304.0V294.8h1V304.0ZM210,304.0V296.8h1V304.0ZM211,304.0V294.0h1V304.0ZM212,304.0V287.9h1V304.0ZM213,304.0V292.4h1V304.0ZM214,304.0V287.2h1V304.0ZM215,304.0V288.9h1V304.0ZM216,304.0V291.9h1V304.0ZM217,304.0V287.3h1V304.0ZM219,304.0V292.3h1V304.0ZM220,304.0V287.8h1V304.0ZM221,304.0V292.1h1V304.0ZM222,304.0V288.6h1V304.0ZM223,304.0V291.1h1V304.0ZM224,304.0V288.7h1V304.0ZM225,304.0V287.7h1V304.0ZM226,304.0V287.9h1V304.0ZM230,304.0V300.4h1V304.0ZM231,304.0V301.9h1V304.0ZM232,304.0V301.9h1V304.0ZM233,304.0V295.0h1V304.0ZM234,304.0V291.1h1V304.0ZM235,304.0V295.4h1V304.0ZM236,304.0V292.7h1V304.0ZM237,304.0V290.2h1V304.0ZM238,304.0V291.4h1V304.0ZM239,304.0V288.5h1V304.0ZM240,304.0V287.7h1V304.0ZM241,304.0V292.1h1V304.0ZM242,304.0V294.9h1V304.0ZM243,304.0V290.8h1V304.0ZM244,304.0V289.6h1V304.0ZM245,304.0V290.1h1V304.0ZM247,304.0V295.1h1V304.0ZM248,304.0V295.8h1V304.0ZM249,304.0V295.1h1V304.0ZM250,304.0V289.1h1V304.0ZM251,304.0V300.4h1V304.0ZM252,304.0V302.0h1V304.0ZM253,304.0V294.0h1V304.0ZM254,304.0V292.4h1V304.0ZM255,304.0V294.1h1V304.0ZM256,304.0V292.1h1V304.0ZM257,304.0V294.4h1V304.0ZM258,304.0V292.0h1V304.0ZM259,304.0V295.7h1V304.0ZM260,304.0V295.0h1V304.0ZM261,304.0V293.5h1V304.0ZM262,304.0V293.0h1V304.0ZM263,304.0V297.4h1V304.0ZM264,304.0V293.4h1V304.0ZM266,304.0V295.5h1V304.0ZM267,304.0V293.4h1V304.0ZM268,304.0V297.0h1V304.0ZM269,304.0V296.1h1V304.0ZM270,304.0V292.5h1V304.0ZM271,304.0V294.9h1V304.0ZM272,304.0V289.8h1V304.0ZM273,304.0V294.3h1V304.0ZM274,304.0V296.4h1V304.0ZM275,304.0V295.8h1V304.0ZM276,304.0V297.5h1V304.0ZM277,304.0V295.5h1V304.0ZM278,304.0V299.0h1V304.0ZM279,304.0V298.8h1V304.0ZM280,304.0V298.8h1V304.0ZM281,304.0V299.3h1V304.0ZM282,304.0V299.7h1V304.0ZM284,304.0V299.4h1V304.0ZM285,304.0V299.7h1V304.0ZM286,304.0V298.7h1V304.0ZM287,304.0V298.8h1V304.0ZM289,304.0V298.1h1V304.0ZM290,304.0V300.7h1V304.0ZM291,304.0V301.7h1V304.0ZM292,304.0V300.6h1V304.0ZM293,304.0V300.8h1V304.0ZM294,304.0V296.6h1V304.0ZM295,304.0V296.5h1V304.0ZM296,304.0V302.1h1V304.0ZM297,304.0V301.2h1V304.0ZM298,304.0V301.8h1V304.0ZM299,304.0V301.2h1V304.0ZM300,304.0V301.2h1V304.0ZM301,304.0V302.3h1V304.0ZM303,304.0V301.2h1V304.0ZM304,304.0V302.4h1V304.0ZM307,304.0V302.4h1V304.0ZM308,304.0V301.5h1V304.0ZM309,304.0V298.7h1V304.0ZM310,304.0V301.9h1V304.0ZM311,304.0V301.6h1V304.0ZM314,304.0V301.7h1V304.0ZM315,304.0V299.1h1V304.0ZM316,304.0V298.8h1V304.0ZM317,304.0V297.3h1V304.0ZM318,304.0V299.5h1V304.0ZM319,304.0V297.7h1V304.0ZM321,304.0V300.2h1V304.0ZM322,304.0V301.4h1V304.0ZM323,304.0V297.2h1V304.0ZM324,304.0V298.3h1V304.0ZM325,304.0V298.4h1V304.0ZM327,304.0V295.3h1V304.0ZM328,304.0V299.2h1V304.0ZM329,304.0V298.4h1V304.0ZM330,304.0V300.2h1V304.0ZM331,304.0V300.0h1V304.0ZM332,304.0V301.3h1V304.0ZM334,304.0V301.8h1V304.0ZM335,304.0V298.0h1V304.0ZM336,304.0V299.2h1V304.0ZM337,304.0V299.4h1V304.0ZM338,304.0V299.6h1V304.0ZM339,304.0V299.8h1V304.0ZM340,304.0V299.2h1V304.0ZM341,304.0V298.9h1V304.0ZM342,304.0V298.0h1V304.0ZM343,304.0V299.0h1V304.0ZM344,304.0V299.3h1V304.0ZM345,304.0V298.4h1V304.0ZM346,304.0V298.0h1V304.0ZM347,304.0V299.0h1V304.0ZM348,304.0V301.0h1V304.0ZM349,304.0V295.9h1V304.0ZM350,304.0V289.6h1V304.0ZM351,304.0V293.0h1V304.0ZM352,304.0V292.5h1V304.0ZM353,304.0V295.6h1V304.0ZM354,304.0V291.0h1V304.0ZM355,304.0V288.9h1V304.0ZM356,304.0V292.0h1V304.0ZM357,304.0V295.1h1V304.0ZM358,304.0V296.6h1V304.0ZM360,304.0V295.7h1V304.0ZM361,304.0V293.3h1V304.0ZM362,304.0V295.4h1V304.0ZM365,304.0V294.3h1V304.0Z" fill="#c98a34"/>
<path d="M218,304.0V290.8h1V304.0ZM227,304.0V287.8h1V304.0ZM229,304.0V300.0h1V304.0ZM246,304.0V291.5h1V304.0ZM265,304.0V292.6h1V304.0ZM283,304.0V299.3h1V304.0ZM288,304.0V297.6h1V304.0ZM302,304.0V301.9h1V304.0ZM305,304.0V301.6h1V304.0ZM306,304.0V301.8h1V304.0ZM312,304.0V301.2h1V304.0ZM313,304.0V299.6h1V304.0ZM320,304.0V300.9h1V304.0ZM326,304.0V301.6h1V304.0ZM333,304.0V301.3h1V304.0ZM359,304.0V293.7h1V304.0ZM363,304.0V290.1h1V304.0ZM364,304.0V289.0h1V304.0Z" fill="#dcb47a"/>
<path d="M202,304.0V306.2h1V304.0ZM230,304.0V306.1h1V304.0ZM231,304.0V306.5h1V304.0ZM232,304.0V307.1h1V304.0ZM292,304.0V309.8h1V304.0ZM294,304.0V311.5h1V304.0ZM295,304.0V309.5h1V304.0ZM297,304.0V310.8h1V304.0ZM298,304.0V310.8h1V304.0ZM299,304.0V307.9h1V304.0ZM300,304.0V307.5h1V304.0ZM301,304.0V308.0h1V304.0ZM303,304.0V308.5h1V304.0ZM304,304.0V309.4h1V304.0ZM305,304.0V310.5h1V304.0ZM306,304.0V316.7h1V304.0ZM308,304.0V316.3h1V304.0ZM314,304.0V308.4h1V304.0ZM315,304.0V308.1h1V304.0ZM332,304.0V311.5h1V304.0ZM333,304.0V312.0h1V304.0Z" fill="#3f7fca"/>
<path d="M203,304.0V306.3h1V304.0ZM293,304.0V309.4h1V304.0ZM296,304.0V309.9h1V304.0ZM307,304.0V315.9h1V304.0Z" fill="#8db2e0"/>
<path d="M188,286.9H190.4V317.7H188M188,304.0H190.4" fill="none" stroke="#444" stroke-width="0.9"/>
<text x="185.8" y="289.4" font-size="7.3" fill="#c9924a" text-anchor="end" font-weight="normal" >2.38</text>
<text x="186.2" y="306.5" font-size="7.3" fill="#333" text-anchor="end" font-weight="normal" >0</text>
<text x="185.8" y="320.2" font-size="7.3" fill="#5a8ccc" text-anchor="end" font-weight="normal" >-1.74</text>
<line x1="191" y1="296.4" x2="375" y2="296.4" stroke="#555" stroke-width="0.8" stroke-dasharray="1.6,2.2"/>
<text x="378" y="299.0" font-size="7.3" fill="#333" text-anchor="start" font-weight="normal" >1.26</text>
<text x="161.8" y="307.3" font-size="9.3" fill="#333" text-anchor="end" font-weight="normal" >H3K9ac</text>
<rect x="438.30" y="174.90" width="7.70" height="7.70" fill="#c98a34" stroke="#3a2a10" stroke-width="0.8"/>
<rect x="438.30" y="188.80" width="7.70" height="7.70" fill="#3f7fca" stroke="#1a2a4a" stroke-width="0.8"/>
<text x="450.3" y="181.6" font-size="9" fill="#333" text-anchor="start" font-weight="normal" >sample</text>
<text x="450.3" y="195.5" font-size="9" fill="#333" text-anchor="start" font-weight="normal" >total input</text>
<line x1="208.6" y1="319.5" x2="208.6" y2="324.3" stroke="#d0303a" stroke-width="1.1" />
<line x1="235.9" y1="319.5" x2="235.9" y2="324.3" stroke="#d0303a" stroke-width="1.1" />
<line x1="350.3" y1="319.5" x2="350.3" y2="324.3" stroke="#d0303a" stroke-width="1.1" />
<text x="362.3" y="324.8" font-size="9.3" fill="#c8282d" text-anchor="start" font-weight="normal" >MLV (n=3)</text>
<text x="48.4" y="334.7" font-size="8.9" fill="#35358f" text-anchor="start" font-weight="normal" >NF1</text>
<line x1="66" y1="328.5" x2="464.6" y2="328.5" stroke="#8080d4" stroke-width="1.0" />
<line x1="66" y1="328.5" x2="464.6" y2="328.5" stroke="#3a3aa6" stroke-width="1.3" stroke-dasharray="1.1,1.3"/>
<line x1="66" y1="334.8" x2="464.6" y2="334.8" stroke="#8080d4" stroke-width="1.0" />
<line x1="66" y1="334.8" x2="464.6" y2="334.8" stroke="#3a3aa6" stroke-width="1.3" stroke-dasharray="1.1,1.3"/>
<line x1="134" y1="341.3" x2="282" y2="341.3" stroke="#8080d4" stroke-width="1.0" />
<line x1="134" y1="341.3" x2="282" y2="341.3" stroke="#3a3aa6" stroke-width="1.3" stroke-dasharray="1.1,1.3"/>
<rect x="102.50" y="339.80" width="9.00" height="3.00" fill="#2a2a9a" />
<rect x="111.00" y="338.30" width="23.00" height="6.00" fill="#2a2a9a" />
<rect x="281.00" y="339.40" width="3.00" height="3.60" fill="#2a2a9a" />
<text x="287.6" y="344.6" font-size="9.1" fill="#35358f" text-anchor="start" font-weight="normal" >EVI2B</text>
<rect x="324.60" y="346.30" width="34.00" height="3.00" fill="#2a2a9a" />
<rect x="358.30" y="344.40" width="11.60" height="6.80" fill="#2a2a9a" />
<line x1="369.9" y1="347.8" x2="413" y2="347.8" stroke="#8080d4" stroke-width="1.0" />
<line x1="369.9" y1="347.8" x2="413" y2="347.8" stroke="#3a3aa6" stroke-width="1.3" stroke-dasharray="1.1,1.3"/>
<rect x="411.00" y="345.90" width="3.30" height="3.80" fill="#2a2a9a" />
<rect x="324.60" y="353.70" width="34.00" height="3.00" fill="#2a2a9a" />
<rect x="358.30" y="351.80" width="11.60" height="6.80" fill="#2a2a9a" />
<line x1="369.9" y1="355.2" x2="413" y2="355.2" stroke="#8080d4" stroke-width="1.0" />
<line x1="369.9" y1="355.2" x2="413" y2="355.2" stroke="#3a3aa6" stroke-width="1.3" stroke-dasharray="1.1,1.3"/>
<rect x="411.00" y="353.30" width="3.30" height="3.80" fill="#2a2a9a" />
<path d="M392,345.6 L395.2,347.8 L392,350 Z" fill="#2a2a9a"/>
<text x="421" y="355.2" font-size="9.1" fill="#35358f" text-anchor="start" font-weight="normal" >EVI2A</text>
<text x="0.3" y="395.6" font-size="18" fill="#111" text-anchor="start" font-weight="bold" >C</text>
<line x1="36.6" y1="416" x2="36.6" y2="606.5" stroke="#444" stroke-width="1" />
<line x1="36.1" y1="606.2" x2="519" y2="606.2" stroke="#444" stroke-width="1" />
<line x1="33.2" y1="584.9" x2="36.6" y2="584.9" stroke="#444" stroke-width="1" />
<text x="30.8" y="588.9" font-size="11.4" fill="#333" text-anchor="end" font-weight="normal" >5</text>
<line x1="33.2" y1="563.9" x2="36.6" y2="563.9" stroke="#444" stroke-width="1" />
<text x="30.8" y="567.9" font-size="11.4" fill="#333" text-anchor="end" font-weight="normal" >10</text>
<line x1="33.2" y1="542.9" x2="36.6" y2="542.9" stroke="#444" stroke-width="1" />
<text x="30.8" y="546.9" font-size="11.4" fill="#333" text-anchor="end" font-weight="normal" >15</text>
<line x1="33.2" y1="521.9" x2="36.6" y2="521.9" stroke="#444" stroke-width="1" />
<text x="30.8" y="525.9" font-size="11.4" fill="#333" text-anchor="end" font-weight="normal" >20</text>
<line x1="33.2" y1="500.9" x2="36.6" y2="500.9" stroke="#444" stroke-width="1" />
<text x="30.8" y="504.9" font-size="11.4" fill="#333" text-anchor="end" font-weight="normal" >25</text>
<line x1="33.2" y1="479.9" x2="36.6" y2="479.9" stroke="#444" stroke-width="1" />
<text x="30.8" y="483.9" font-size="11.4" fill="#333" text-anchor="end" font-weight="normal" >30</text>
<line x1="33.2" y1="458.9" x2="36.6" y2="458.9" stroke="#444" stroke-width="1" />
<text x="30.8" y="462.9" font-size="11.4" fill="#333" text-anchor="end" font-weight="normal" >35</text>
<line x1="33.2" y1="437.9" x2="36.6" y2="437.9" stroke="#444" stroke-width="1" />
<text x="30.8" y="441.9" font-size="11.4" fill="#333" text-anchor="end" font-weight="normal" >40</text>
<line x1="33.2" y1="416.9" x2="36.6" y2="416.9" stroke="#444" stroke-width="1" />
<text x="30.8" y="420.9" font-size="11.4" fill="#333" text-anchor="end" font-weight="normal" >45</text>
<line x1="86.7" y1="606.2" x2="86.7" y2="608.4" stroke="#444" stroke-width="0.9" />
<line x1="141.5" y1="606.2" x2="141.5" y2="608.4" stroke="#444" stroke-width="0.9" />
<line x1="195.4" y1="606.2" x2="195.4" y2="608.4" stroke="#444" stroke-width="0.9" />
<line x1="250.2" y1="606.2" x2="250.2" y2="608.4" stroke="#444" stroke-width="0.9" />
<line x1="304.4" y1="606.2" x2="304.4" y2="608.4" stroke="#444" stroke-width="0.9" />
<line x1="359" y1="606.2" x2="359" y2="608.4" stroke="#444" stroke-width="0.9" />
<line x1="413.5" y1="606.2" x2="413.5" y2="608.4" stroke="#444" stroke-width="0.9" />
<line x1="467" y1="606.2" x2="467" y2="608.4" stroke="#444" stroke-width="0.9" />
<text transform="translate(11.3,561) rotate(-90)" font-size="12" font-weight="bold" fill="#111" letter-spacing="0.72">integrations (%)</text>
<rect x="43.50" y="593.72" width="10.70" height="12.18" fill="#232323" />
<rect x="54.55" y="472.76" width="10.70" height="19.74" fill="#8a2b29" />
<rect x="54.55" y="492.50" width="10.70" height="62.16" fill="#c63b33" />
<rect x="54.55" y="554.66" width="10.70" height="51.24" fill="#e9ac67" />
<rect x="65.60" y="590.36" width="10.70" height="15.54" fill="#4a82cf" />
<text x="59.8" y="621.6" font-size="9.6" fill="#333" text-anchor="middle" font-weight="normal" >H3K4me1</text>
<rect x="97.84" y="597.92" width="10.70" height="7.98" fill="#232323" />
<rect x="108.89" y="430.34" width="10.70" height="75.18" fill="#8a2b29" />
<rect x="108.89" y="505.52" width="10.70" height="56.28" fill="#c63b33" />
<rect x="108.89" y="561.80" width="10.70" height="44.10" fill="#e9ac67" />
<rect x="119.94" y="597.08" width="10.70" height="8.82" fill="#4a82cf" />
<text x="114.14" y="621.6" font-size="9.6" fill="#333" text-anchor="middle" font-weight="normal" >H3K4me2</text>
<rect x="152.18" y="596.24" width="10.70" height="9.66" fill="#232323" />
<rect x="163.23" y="488.30" width="10.70" height="74.34" fill="#8a2b29" />
<rect x="163.23" y="562.64" width="10.70" height="20.58" fill="#c63b33" />
<rect x="163.23" y="583.22" width="10.70" height="22.68" fill="#e9ac67" />
<rect x="174.28" y="597.92" width="10.70" height="7.98" fill="#4a82cf" />
<text x="168.48000000000002" y="621.6" font-size="9.6" fill="#333" text-anchor="middle" font-weight="normal" >H3K4me3</text>
<rect x="206.52" y="599.60" width="10.70" height="6.30" fill="#232323" />
<rect x="217.57" y="471.50" width="10.70" height="62.16" fill="#8a2b29" />
<rect x="217.57" y="533.66" width="10.70" height="38.22" fill="#c63b33" />
<rect x="217.57" y="571.88" width="10.70" height="34.02" fill="#e9ac67" />
<rect x="228.62" y="601.28" width="10.70" height="4.62" fill="#4a82cf" />
<text x="222.82000000000002" y="621.6" font-size="9.6" fill="#333" text-anchor="middle" font-weight="normal" >H3K9Ac</text>
<rect x="260.86" y="590.78" width="10.70" height="15.12" fill="#232323" />
<rect x="271.91" y="477.80" width="10.70" height="51.66" fill="#8a2b29" />
<rect x="271.91" y="529.46" width="10.70" height="29.82" fill="#c63b33" />
<rect x="271.91" y="559.28" width="10.70" height="46.62" fill="#e9ac67" />
<rect x="282.96" y="587.84" width="10.70" height="18.06" fill="#4a82cf" />
<text x="277.16" y="621.6" font-size="9.6" fill="#333" text-anchor="middle" font-weight="normal" >H2A.Z</text>
<rect x="315.20" y="573.98" width="10.70" height="31.92" fill="#232323" />
<rect x="326.25" y="577.34" width="10.70" height="28.56" fill="#c63b33" />
<rect x="337.30" y="545.42" width="10.70" height="60.48" fill="#4a82cf" />
<text x="331.50000000000006" y="621.6" font-size="9.6" fill="#333" text-anchor="middle" font-weight="normal" >H3K36me3</text>
<rect x="369.54" y="589.94" width="10.70" height="15.96" fill="#232323" />
<rect x="380.59" y="573.98" width="10.70" height="31.92" fill="#c63b33" />
<rect x="391.64" y="571.88" width="10.70" height="34.02" fill="#4a82cf" />
<text x="385.84000000000003" y="621.6" font-size="9.6" fill="#333" text-anchor="middle" font-weight="normal" >H2BK5me1</text>
<rect x="423.88" y="523.16" width="10.70" height="82.74" fill="#232323" />
<rect x="434.93" y="588.26" width="10.70" height="17.64" fill="#c63b33" />
<rect x="445.98" y="605.06" width="10.70" height="0.84" fill="#4a82cf" />
<text x="440.18" y="621.6" font-size="9.6" fill="#333" text-anchor="middle" font-weight="normal" >H3K27me3</text>
<rect x="478.22" y="526.10" width="10.70" height="79.80" fill="#232323" />
<rect x="489.27" y="589.10" width="10.70" height="16.80" fill="#c63b33" />
<rect x="500.32" y="583.64" width="10.70" height="22.26" fill="#4a82cf" />
<text x="494.52000000000004" y="621.6" font-size="9.6" fill="#333" text-anchor="middle" font-weight="normal" >H3K9me3</text>
<path d="M48.2,467.9V465.2H60.0V467.9" fill="none" stroke="#333" stroke-width="1"/>
<circle cx="50.00" cy="460.60" r="1.1" fill="#3a3a3a"/>
<circle cx="54.10" cy="460.60" r="1.1" fill="#3a3a3a"/>
<circle cx="58.20" cy="460.60" r="1.1" fill="#3a3a3a"/>
<path d="M102.54,427.3V424.6H114.34V427.3" fill="none" stroke="#333" stroke-width="1"/>
<circle cx="104.34" cy="420.00" r="1.1" fill="#3a3a3a"/>
<circle cx="108.44" cy="420.00" r="1.1" fill="#3a3a3a"/>
<circle cx="112.54" cy="420.00" r="1.1" fill="#3a3a3a"/>
<path d="M156.88,485.7V483H168.68V485.7" fill="none" stroke="#333" stroke-width="1"/>
<circle cx="158.68" cy="478.40" r="1.1" fill="#3a3a3a"/>
<circle cx="162.78" cy="478.40" r="1.1" fill="#3a3a3a"/>
<circle cx="166.88" cy="478.40" r="1.1" fill="#3a3a3a"/>
<path d="M211.22,467.9V465.2H223.02V467.9" fill="none" stroke="#333" stroke-width="1"/>
<circle cx="213.02" cy="460.60" r="1.1" fill="#3a3a3a"/>
<circle cx="217.12" cy="460.60" r="1.1" fill="#3a3a3a"/>
<circle cx="221.22" cy="460.60" r="1.1" fill="#3a3a3a"/>
<path d="M265.56,474.7V472H277.36V474.7" fill="none" stroke="#333" stroke-width="1"/>
<circle cx="267.36" cy="467.40" r="1.1" fill="#3a3a3a"/>
<circle cx="271.46" cy="467.40" r="1.1" fill="#3a3a3a"/>
<circle cx="275.56" cy="467.40" r="1.1" fill="#3a3a3a"/>
<path d="M318.6,541.2V538.5H342.5V541.2" fill="none" stroke="#333" stroke-width="1"/>
<circle cx="326.45" cy="533.90" r="1.1" fill="#3a3a3a"/>
<circle cx="330.55" cy="533.90" r="1.1" fill="#3a3a3a"/>
<circle cx="334.65" cy="533.90" r="1.1" fill="#3a3a3a"/>
<path d="M373.5,569.7V567H385.5V569.7" fill="none" stroke="#333" stroke-width="1"/>
<circle cx="377.45" cy="562.40" r="1.1" fill="#3a3a3a"/>
<circle cx="381.55" cy="562.40" r="1.1" fill="#3a3a3a"/>
<path d="M373.5,556.0V553.3H397.4V556.0" fill="none" stroke="#333" stroke-width="1"/>
<circle cx="381.35" cy="548.70" r="1.1" fill="#3a3a3a"/>
<circle cx="385.45" cy="548.70" r="1.1" fill="#3a3a3a"/>
<circle cx="389.55" cy="548.70" r="1.1" fill="#3a3a3a"/>
<path d="M428.6,519.4000000000001V516.7H441.1V519.4000000000001" fill="none" stroke="#333" stroke-width="1"/>
<circle cx="430.75" cy="512.10" r="1.1" fill="#3a3a3a"/>
<circle cx="434.85" cy="512.10" r="1.1" fill="#3a3a3a"/>
<circle cx="438.95" cy="512.10" r="1.1" fill="#3a3a3a"/>
<path d="M428.6,505.3V502.6H452.6V505.3" fill="none" stroke="#333" stroke-width="1"/>
<circle cx="436.50" cy="498.00" r="1.1" fill="#3a3a3a"/>
<circle cx="440.60" cy="498.00" r="1.1" fill="#3a3a3a"/>
<circle cx="444.70" cy="498.00" r="1.1" fill="#3a3a3a"/>
<path d="M483.2,522.7V520H495.7V522.7" fill="none" stroke="#333" stroke-width="1"/>
<circle cx="485.35" cy="515.40" r="1.1" fill="#3a3a3a"/>
<circle cx="489.45" cy="515.40" r="1.1" fill="#3a3a3a"/>
<circle cx="493.55" cy="515.40" r="1.1" fill="#3a3a3a"/>
<path d="M483.2,508.5V505.8H507.2V508.5" fill="none" stroke="#333" stroke-width="1"/>
<circle cx="491.10" cy="501.20" r="1.1" fill="#3a3a3a"/>
<circle cx="495.20" cy="501.20" r="1.1" fill="#3a3a3a"/>
<circle cx="499.30" cy="501.20" r="1.1" fill="#3a3a3a"/>
<path d="M38.7,626 V629.2 H292.9 V626 M167.8,629.2 V635.5" fill="none" stroke="#444" stroke-width="1"/>
<text x="167.8" y="649.6" font-size="9.4" fill="#333" text-anchor="middle" font-weight="normal" >A</text>
<path d="M305.6,626 V629.2 H411 V626 M359.2,629.2 V635.5" fill="none" stroke="#444" stroke-width="1"/>
<text x="359.2" y="649.6" font-size="9.4" fill="#333" text-anchor="middle" font-weight="normal" >B</text>
<path d="M415.7,626 V629.2 H518.2 V626 M467,629.2 V635.5" fill="none" stroke="#444" stroke-width="1"/>
<text x="467" y="649.6" font-size="9.4" fill="#333" text-anchor="middle" font-weight="normal" >C</text>
<rect x="323.30" y="411.00" width="10.40" height="9.80" fill="#232323" stroke="#111" stroke-width="0.6"/>
<rect x="323.30" y="425.40" width="10.40" height="3.40" fill="#8a2b29" />
<rect x="323.30" y="428.80" width="10.40" height="3.40" fill="#c63b33" />
<rect x="323.30" y="432.20" width="10.40" height="3.30" fill="#e9ac67" />
<rect x="323.30" y="425.40" width="10.40" height="10.10" fill="none" stroke="#222" stroke-width="0.6"/>
<rect x="323.30" y="439.40" width="10.40" height="10.10" fill="#4a82cf" stroke="#223" stroke-width="0.6"/>
<text x="337.8" y="418.9" font-size="8.9" fill="#333" text-anchor="start" font-weight="normal" >Random (n = 1,000)</text>
<text x="337.8" y="433.3" font-size="8.9" fill="#333" text-anchor="start" font-weight="normal" >MLV (n = 829)</text>
<text x="337.8" y="447.6" font-size="8.9" fill="#333" text-anchor="start" font-weight="normal" >HIV (n = 401)</text>
<line x1="394.8" y1="431.1" x2="423.1" y2="431.1" stroke="#444" stroke-width="0.9" />
<line x1="423.1" y1="411.7" x2="423.1" y2="448.9" stroke="#444" stroke-width="1" />
<rect x="427.20" y="412.60" width="9.80" height="9.10" fill="#8a2b29" stroke="#3a1010" stroke-width="0.6"/>
<rect x="427.20" y="426.50" width="9.80" height="9.00" fill="#c63b33" stroke="#3a1010" stroke-width="0.6"/>
<rect x="427.20" y="440.10" width="9.80" height="8.80" fill="#e9ac67" stroke="#4a3010" stroke-width="0.6"/>
<text x="441.6" y="420.4" font-size="8.9" fill="#333" text-anchor="start" font-weight="normal" >MLV TSS-proximal</text>
<text x="441.6" y="434.3" font-size="8.9" fill="#333" text-anchor="start" font-weight="normal" >MLV intragenic</text>
<text x="441.6" y="448.1" font-size="8.9" fill="#333" text-anchor="start" font-weight="normal" >MLV intergenic</text>
</svg>
</body></html>
